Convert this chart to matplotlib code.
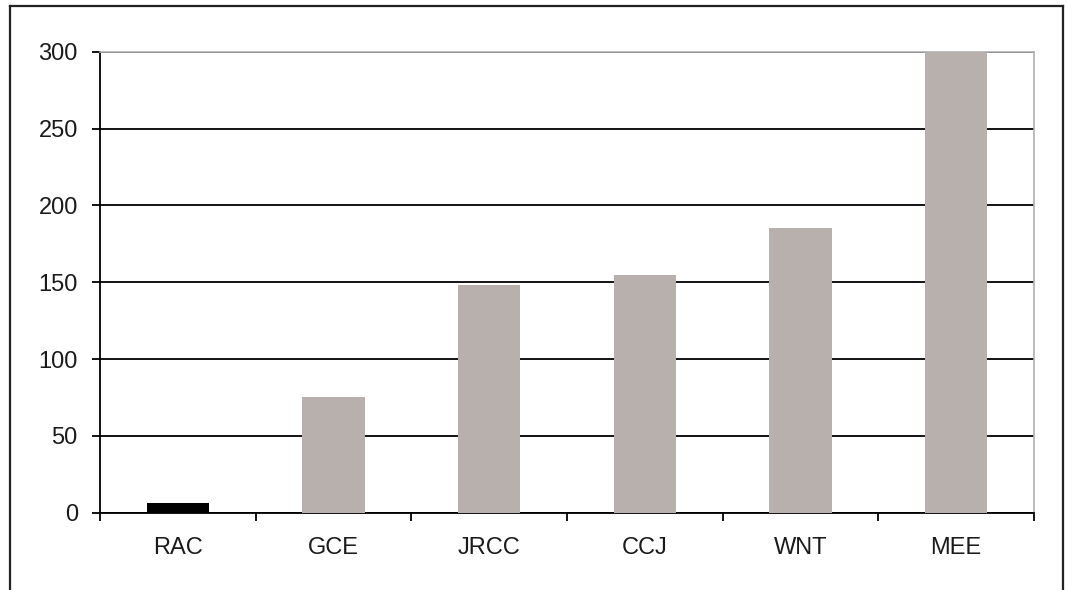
import matplotlib
matplotlib.use("Agg")
import matplotlib.pyplot as plt
from matplotlib.lines import Line2D

categories = ["RAC", "GCE", "JRCC", "CCJ", "WNT", "MEE"]
values = [6, 75, 148, 155, 185, 300]
bar_colors = ["#000000", "#B8B0AD", "#B8B0AD", "#B8B0AD", "#B8B0AD", "#B8B0AD"]
y_ticks = [0, 50, 100, 150, 200, 250, 300]

plt.rcParams['font.family'] = ['Liberation Sans', 'DejaVu Sans']

fig = plt.figure(figsize=(10.67, 5.90), dpi=100)
ax = fig.add_axes([100/1067, (590-512.7)/590, 934/1067, (512.7-51.7)/590])

x = list(range(len(categories)))
ax.bar(x, values, width=0.40, color=bar_colors, zorder=3)

ax.set_xlim(-0.5, len(categories) - 0.5)
ax.set_ylim(0, 300)
ax.set_yticks(y_ticks)
ax.set_yticklabels([str(v) for v in y_ticks])
ax.yaxis.grid(True, color="#000000", linewidth=1.3, zorder=0)
ax.set_axisbelow(True)

# major x ticks at category boundaries, labels via minor ticks at centres
ax.set_xticks([i - 0.5 for i in range(len(categories) + 1)])
ax.set_xticklabels([])
ax.set_xticks(x, minor=True)
ax.set_xticklabels(categories, minor=True)
ax.tick_params(axis="x", which="major", length=5.8, width=1.3, color="#000000", direction="out")
ax.tick_params(axis="x", which="minor", length=0, pad=17.5, labelsize=17, labelcolor="#1a1a1a")
ax.tick_params(axis="y", length=6, width=1.3, color="#000000", pad=10, labelsize=17, labelcolor="#1a1a1a")

for s in ["left", "bottom"]:
    ax.spines[s].set_color("#000000")
    ax.spines[s].set_linewidth(1.3)
for s in ["top", "right"]:
    ax.spines[s].set_color("#B0B0B0")
    ax.spines[s].set_linewidth(1.2)

# outer frame (bottom edge cut off)
l, r, t = 10/1067, 1063/1067, 1 - 6/590
fig.add_artist(Line2D([l, l], [-0.1, t], transform=fig.transFigure, color="#222222", linewidth=1.6))
fig.add_artist(Line2D([l, r], [t, t], transform=fig.transFigure, color="#222222", linewidth=1.6))
fig.add_artist(Line2D([r, r], [-0.1, t], transform=fig.transFigure, color="#222222", linewidth=1.6))

fig.savefig("out.png", dpi=100)
